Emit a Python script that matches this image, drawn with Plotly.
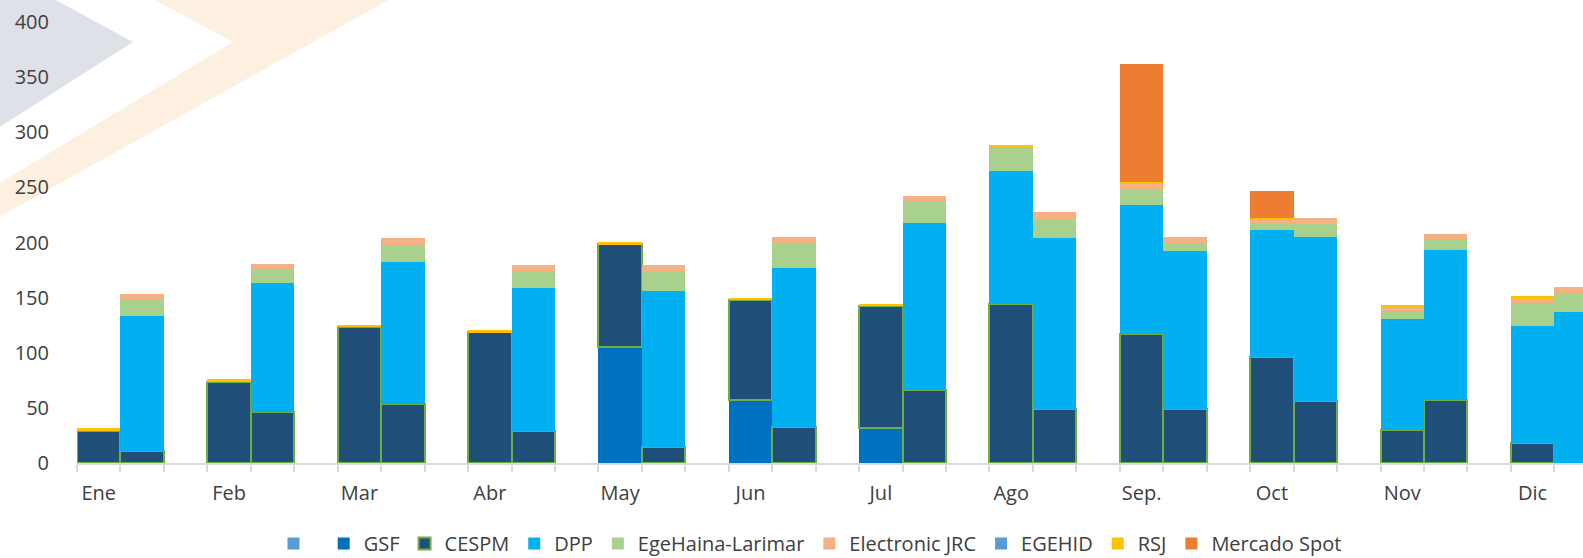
import plotly.graph_objects as go

months = ["Ene", "Feb", "Mar", "Abr", "May", "Jun", "Jul", "Ago", "Sep.", "Oct", "Nov", "Dic"]

# first bar of each month
blank_a   = [0, 0, 0, 0, 0, 0, 0, 0, 0, 0, 0, 0]
gsf_a     = [0, 0, 0, 0, 105.5, 57.1, 32, 0, 0, 0, 0, 0]
cespm_a   = [29.3, 73.7, 123, 118.8, 92.9, 90.7, 110, 144.2, 117, 95.8, 29.9, 17.8]
dpp_a     = [0, 0, 0, 0, 0, 0, 0, 120.9, 117, 115.2, 101, 106.8]
ege_a     = [0, 0, 0, 0, 0, 0, 0, 21.8, 14.5, 6.4, 7, 20.5]
jrc_a     = [0, 0, 0, 0, 0, 0, 0, 0, 5.1, 3.9, 3.6, 3.9]
egehid_a  = [0, 0, 0, 0, 0, 0, 0, 0, 0, 0, 0, 0]
rsj_a     = [2.4, 2.2, 1.9, 1.8, 1.8, 1.9, 2, 1.5, 0.9, 1, 1.8, 2.5]
spot_a    = [0, 0, 0, 0, 0, 0, 0, 0, 107.4, 24.4, 0, 0]

# second bar of each month
blank_b   = [0, 0, 0, 0, 0, 0, 0, 0, 0, 0, 0, 0]
gsf_b     = [0, 0, 0, 0, 0, 0, 0, 0, 0, 0, 0, 0]
cespm_b   = [11.2, 46.5, 53.8, 29, 14.8, 33, 66.6, 48.6, 48.6, 56.5, 57.4, 0]
dpp_b     = [122.4, 117, 128.2, 129.4, 141.2, 144.2, 151.4, 155.2, 144, 148.5, 135.8, 137.3]
ege_b     = [14.2, 11.8, 15.7, 15.7, 17.5, 22, 20, 17.2, 6.6, 11.8, 9.7, 16]
jrc_b     = [5.5, 5.5, 6.1, 5.5, 6.1, 6.1, 4.2, 6.4, 5.8, 5.1, 4.8, 6]
egehid_b  = [0, 0, 0, 0, 0, 0, 0, 0, 0, 0, 0, 0]
rsj_b     = [0, 0, 0, 0, 0, 0, 0, 0, 0, 0, 0, 0]
spot_b    = [0, 0, 0, 0, 0, 0, 0, 0, 0, 0, 0, 0]

y_ticks = [0, 50, 100, 150, 200, 250, 300, 350, 400]

series = [
    (" ", blank_a, blank_b, "#5B9BD5"),
    ("GSF", gsf_a, gsf_b, "#0070C0"),
    ("CESPM", cespm_a, cespm_b, "#1F4E79"),
    ("DPP", dpp_a, dpp_b, "#00B0F0"),
    ("EgeHaina-Larimar", ege_a, ege_b, "#A9D18E"),
    ("Electronic JRC", jrc_a, jrc_b, "#F4B183"),
    ("EGEHID", egehid_a, egehid_b, "#5B9BD5"),
    ("RSJ", rsj_a, rsj_b, "#FFC000"),
    ("Mercado Spot", spot_a, spot_b, "#ED7D31"),
]

x_a = [3 * i for i in range(len(months))]
x_b = [3 * i + 1 for i in range(len(months))]

FONT = "Open Sans"
TXT = "#404040"

fig = go.Figure()
for name, va, vb, col in series:
    line = dict(color="#70AD47", width=2) if name == "CESPM" else dict(width=0)
    fig.add_trace(go.Bar(
        x=x_a + x_b, y=va + vb, name=name, showlegend=True,
        marker=dict(color=col, line=line), width=1,
    ))

# page geometry for background watermark (pixel -> paper)
L, R, T, B, W, H = 77, 0, 22, 95, 1583, 558
pw, ph = W - L - R, H - T - B
def px(x):
    return (x - L) / pw
def py(y):
    return (H - B - y) / ph

def poly(pts):
    return "M " + " L ".join(f"{px(a):.4f},{py(b):.4f}" for a, b in pts) + " Z"

shapes = [
    dict(type="path", xref="paper", yref="paper", layer="below",
         path=poly([(-2, -2), (52, -2), (133, 42), (-2, 128)]),
         fillcolor="#DEE1E8", line=dict(width=0)),
    dict(type="path", xref="paper", yref="paper", layer="below",
         path=poly([(151, -2), (392, -2), (-2, 218), (-2, 184), (233, 42)]),
         fillcolor="#FDF0E1", line=dict(width=0)),
]

fig.update_layout(
    width=W, height=H,
    margin=dict(l=L, r=R, t=T, b=B, autoexpand=False),
    barmode="stack", bargap=0,
    paper_bgcolor="white", plot_bgcolor="rgba(0,0,0,0)",
    font=dict(family=FONT, size=20, color=TXT),
    shapes=shapes,
    xaxis=dict(
        range=[-0.5, 34.16], automargin=False,
        tickvals=x_a, ticktext=months, ticks="",
        showline=True, linecolor="#D9D9D9", linewidth=2,
        showgrid=False, zeroline=False,
        ticklabelstandoff=11,
        minor=dict(ticks="outside", tick0=-0.5, dtick=1, ticklen=7,
                   tickcolor="#D9D9D9", tickwidth=2, showgrid=False),
        tickfont=dict(size=20, color=TXT),
    ),
    yaxis=dict(
        range=[0, 400], tickvals=y_ticks, ticks="", automargin=False,
        showgrid=False, zeroline=False, showline=False,
        ticklabelstandoff=27,
        tickfont=dict(size=20, color=TXT),
    ),
    legend=dict(
        orientation="h", xanchor="center", x=px(810),
        yanchor="bottom", y=py(563),
        font=dict(size=20, color=TXT), traceorder="normal",
        bgcolor="rgba(0,0,0,0)",
    ),
)

fig.write_html(
    "out.html",
    config={"displayModeBar": False},
    post_script="document.body.style.margin='0';document.body.style.overflow='hidden';",
)
